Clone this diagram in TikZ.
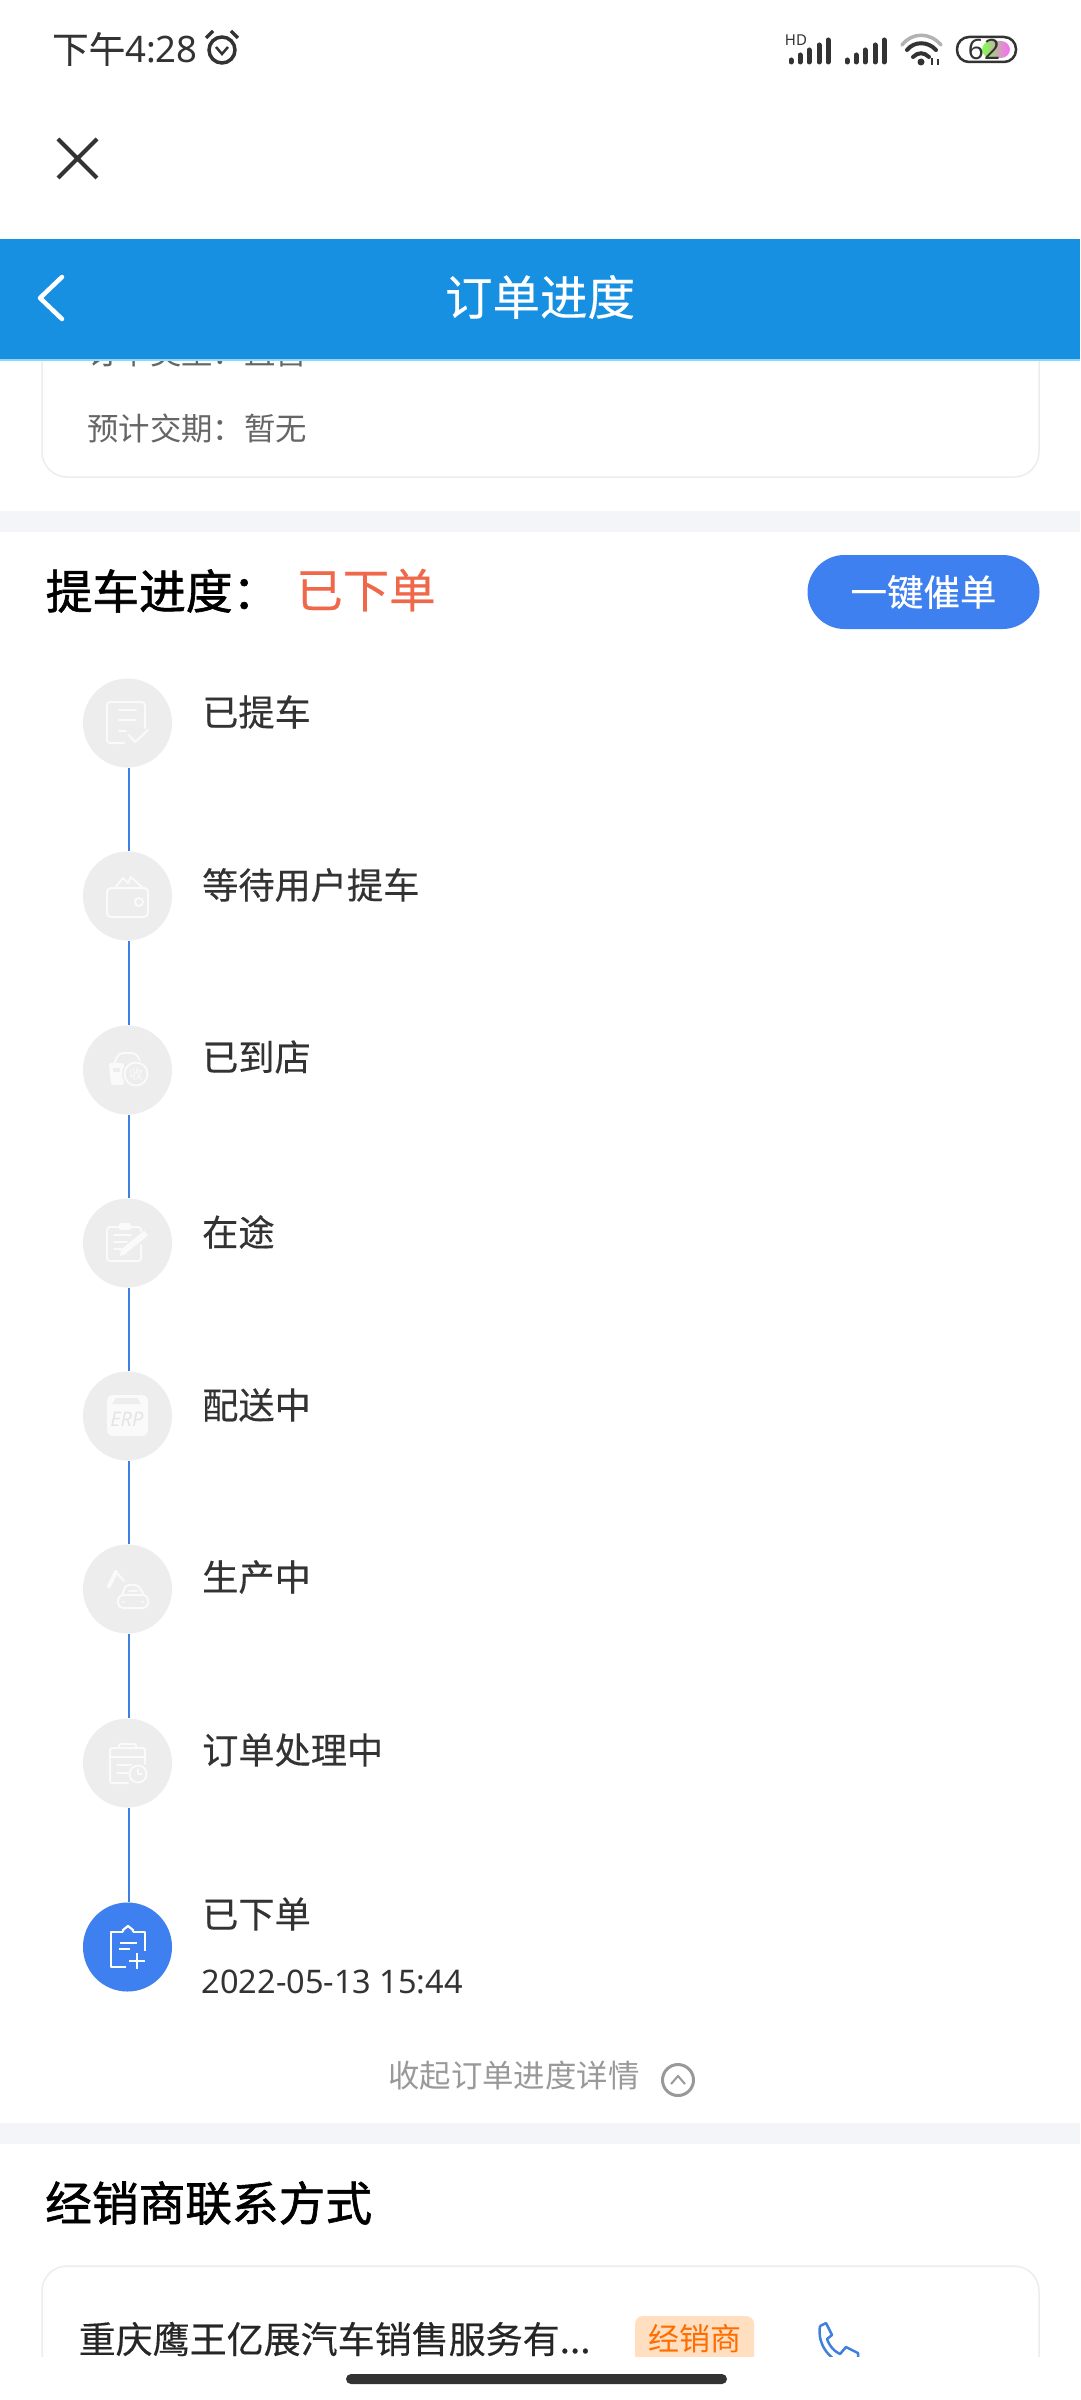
\documentclass[tikz,border=0pt]{standalone}
\usepackage{fontspec}
\setmainfont{Noto Sans}
\newfontfamily\cjk{Noto Sans CJK SC}
\newfontfamily\cjkmid[FakeBold=0.3]{Noto Sans CJK SC}
\newfontfamily\cjkhead[FakeBold=1.3]{Noto Sans CJK SC}
\definecolor{barblue}{HTML}{1890E2}
\definecolor{btnblue}{HTML}{3F80F0}
\definecolor{linkblue}{HTML}{3F7FDF}
\definecolor{bandgray}{HTML}{F4F5F9}
\definecolor{stepgray}{HTML}{EDEDED}
\definecolor{iconwhite}{HTML}{FAFAFA}
\definecolor{inkdark}{HTML}{333333}
\definecolor{redtext}{HTML}{F0684A}
\tikzset{
  card/.style={draw=black!7,line width=1.5pt,fill=white,rounded corners=25pt},
  band/.style={fill=bandgray,draw=none},
  stepdot/.style={circle,fill=stepgray,minimum size=89pt,inner sep=0pt},
  stepline/.style={draw=linkblue,line width=1.8pt},
  steptext/.style={anchor=west,inner sep=0pt,text=inkdark,font=\cjkmid\fontsize{36.2}{37}\selectfont},
  headtext/.style={anchor=west,inner sep=0pt,text=black,font=\cjkhead\fontsize{46.7}{47}\selectfont},
  infotext/.style={anchor=west,inner sep=0pt,text=black!60,font=\cjk\fontsize{31.4}{32}\selectfont},
  iconline/.style={draw=iconwhite,line width=2pt,line cap=round,line join=round},
  iconfill/.style={fill=iconwhite,draw=none},
  signalbar/.style={draw=inkdark,line width=5pt,line cap=round},
}
\begin{document}
\begin{tikzpicture}[x=1pt,y=-1pt]
\useasboundingbox (0,0) rectangle (1080,2400);
\fill[white] (0,0) rectangle (1080,2400);
% status bar
\node[anchor=west,inner sep=0pt,text=inkdark,font=\fontsize{36.5}{37}\selectfont] (clock) at (52,49) {{\cjkmid 下午}4:28};
\draw[inkdark,line width=3.5pt] (222,50) circle (13);
\draw[inkdark,line width=3.5pt] (206,38) -- (213,31) (238,38) -- (231,31);
\draw[inkdark,line width=2.5pt] (216,47) -- (222,54) -- (228,47);
\node[inner sep=0pt,text=inkdark,font=\bfseries\fontsize{15}{15}\selectfont] (hd) at (796,40) {HD};
\foreach \x/\t in {791/60,800/55,809/50,819/45,828/40,847/60,856/55,865/50,875/45,884/40}
\draw[signalbar] (\x,62) -- (\x,\t);
% wifi
\draw[black!30,line width=3.5pt,line cap=round] (902,45) .. controls (912,32) and (930,32) .. (941,45);
\draw[inkdark,line width=4pt,line cap=round] (907,50) .. controls (914,41) and (928,41) .. (936,50);
\draw[inkdark,line width=4pt,line cap=round] (913,57) .. controls (918,52) and (924,52) .. (929,57);
\fill[inkdark] (921,62) circle (3.5);
\draw[inkdark,line width=2pt] (932,65) -- (932,58) (938,59) -- (938,65);
% battery
\draw[inkdark,line width=2.5pt,rounded corners=12pt,fill=white] (957,37) rectangle (1016,62);
\shade[left color=green!70!yellow!70,right color=magenta!60,rounded corners=9pt] (982,41) rectangle (1010,58);
\node[inner sep=0pt,text=inkdark,font=\fontsize{28}{28}\selectfont] (batt) at (984,50) {62};
% close
\draw[inkdark,line width=4pt] (58,139) -- (97,178) (97,139) -- (58,178);
% order card, runs under the title bar
\draw[card] (42,300) rectangle (1039,477);
\node[infotext] (kind) at (87,353) {订单类型：直营};
\node[infotext] (date) at (87,428) {预计交期：暂无};
% title bar
\fill[barblue] (0,239) rectangle (1080,359);
\fill[cyan!45] (0,359) rectangle (1080,360.5);
\draw[white,line width=4.5pt,line cap=round,line join=round] (62,277) -- (40,298) -- (62,319);
\node[inner sep=0pt,text=white,font=\cjkmid\fontsize{47.5}{48}\selectfont] (title) at (540,297) {订单进度};
\fill[band] (0,511) rectangle (1080,532);
% progress head
\node[headtext] (prog) at (45.5,591) {提车进度：};
\node[headtext,text=redtext,font=\cjkmid\fontsize{46.5}{47}\selectfont] (state) at (296,590) {已下单};
\node[fill=btnblue,rounded corners=37pt,minimum width=232pt,minimum height=74pt,inner sep=0pt,text=white,font=\cjkmid\fontsize{36.5}{37}\selectfont] (urge) at (923.5,592) {一键催单};
% steps
\foreach \y/\ly/\t [count=\i] in {723/712/已提车,896/885/等待用户提车,1070/1057/已到店,1243/1232/在途,1416/1405/配送中,1589/1577/生产中,1763/1750/订单处理中,1947/1914/已下单}
{
\node[stepdot] (s\i) at (127.5,\y) {};
\node[steptext] (t\i) at (202,\ly) {\t};
}
\node[stepdot,fill=btnblue] at (s8) {};
\foreach \a/\b in {1/2,2/3,3/4,4/5,5/6,6/7,7/8}
\draw[stepline] ([xshift=1.5pt]s\a.south) -- ([xshift=1.5pt]s\b.north);
\node[anchor=west,inner sep=0pt,text=inkdark,font=\fontsize{32.5}{33}\selectfont] (when) at (201.5,1982) {2022-05-13 15:44};
% icon 1, sheet and tick
\begin{scope}[shift={(127,723)}]
\draw[iconline,rounded corners=3pt] (-3,20) -- (-20,20) -- (-20,-21) -- (18,-21) -- (18,5);
\draw[iconline] (-8,-13) -- (9,-13) (-8,-3) -- (9,-3) (-8,8) -- (-1,8);
\draw[iconline] (2,12) -- (8,19) -- (21,7);
\end{scope}
% icon 2, wallet
\begin{scope}[shift={(127,896)}]
\draw[iconline,rounded corners=4pt] (-20,-8) rectangle (21,21);
\draw[iconline] (-12,-8) -- (-4,-18) -- (1,-13) -- (4,-19) -- (16,-8);
\draw[iconline] (12,6) circle (4);
\end{scope}
% icon 3, car and seal
\begin{scope}[shift={(127,1070)}]
\draw[iconline,rounded corners=4pt] (-13,-6) -- (-8,-17) -- (9,-17) -- (14,-7);
\fill[iconfill,rounded corners=2pt] (-18,-7) -- (-3,-7) -- (-3,15) -- (-16,15) -- cycle;
\fill[stepgray] (-14,-2) rectangle (-7,2);
\fill[stepgray] (9,4) circle (14);
\draw[iconline] (9,4) circle (11.5);
\node[inner sep=0pt,text=iconwhite,font=\cjk\fontsize{14}{14}\selectfont] (seal) at (9,4) {收};
\end{scope}
% icon 4, clipboard and pencil
\begin{scope}[shift={(127,1243)}]
\draw[iconline,rounded corners=3pt] (14,2) -- (14,18) -- (-20,18) -- (-20,-16) -- (14,-16) -- (14,-12);
\fill[iconfill,rounded corners=2pt] (-8,-20) rectangle (4,-13);
\draw[iconline] (-13,-8) -- (4,-8) (-13,-1) -- (0,-1) (-13,6) -- (-6,6);
\draw[iconwhite,line width=6pt] (-3,8) -- (19,-10);
\fill[iconwhite] (-7,13) -- (-6,5) -- (0,11) -- cycle;
\end{scope}
% icon 5, box
\begin{scope}[shift={(127,1416)}]
\fill[iconfill,rounded corners=6pt] (-20,-21) rectangle (21,20);
\fill[stepgray] (-11,-18) -- (10,-18) -- (14,-12) -- (-15,-12) -- cycle;
\node[inner sep=0pt,text=black!10,font=\itshape\fontsize{20}{20}\selectfont] (erp) at (0,3) {ERP};
\end{scope}
% icon 6, arm over a car
\begin{scope}[shift={(127,1589)}]
\draw[iconwhite,line width=4pt,line cap=round] (-18,-3) -- (-11,-17);
\draw[iconline] (-11,-17) -- (-3,-8);
\draw[iconline,rounded corners=5pt] (-9,6) rectangle (21,19);
\draw[iconline,rounded corners=3pt] (-5,6) -- (-1,-4) -- (11,-4) -- (17,6);
\draw[iconline] (-4,13) -- (-3,13) (15,13) -- (16,13) (2,2) -- (10,2);
\end{scope}
% icon 7, clipboard and clock
\begin{scope}[shift={(127,1763)}]
\draw[iconline,rounded corners=2pt] (1,20) -- (-17,20) -- (-17,-15) -- (18,-15) -- (18,1);
\draw[iconline,rounded corners=2pt] (-8,-15) -- (-8,-19) -- (9,-19) -- (9,-15);
\draw[iconline] (-17,-6) -- (18,-6) (-10,2) -- (4,2) (-10,10) -- (1,10);
\draw[iconline] (11,11) circle (8.5) (11,6) -- (11,11) -- (15,11);
\end{scope}
% icon 8, clipboard and plus
\begin{scope}[shift={(127,1947)}]
\draw[white,line width=2.2pt,line join=round] (-1,20) -- (-16,20) -- (-16,-15) -- (-4,-15) (6,-15) -- (18,-15) -- (18,4);
\draw[white,line width=2.2pt,line join=round] (-4,-15) -- (-4,-17) -- (1,-21) -- (6,-17) -- (6,-15);
\draw[white,line width=2.2pt] (-7,-4) -- (10,-4) (-8,2) -- (3,2);
\draw[white,line width=2.2pt] (2,14) -- (18,14) (10,6) -- (10,22);
\end{scope}
% collapse row
\node[infotext,text=black!40] (fold) at (388,2076) {收起订单进度详情};
\node[circle,draw=black!40,line width=3pt,minimum size=31pt,inner sep=0pt] (foldic) at (678,2080) {};
\draw[black!40,line width=2pt] (671,2084) -- (678,2076) -- (685,2084);
\fill[band] (0,2123) rectangle (1080,2144);
% dealer part
\node[headtext] (deal) at (45,2203) {经销商联系方式};
\draw[card] (42,2266) rectangle (1039,2500);
\node[anchor=west,inner sep=0pt,text=black!85,font=\cjkmid\fontsize{37}{37}\selectfont] (shop) at (78.5,2339) {重庆鹰王亿展汽车销售服务有...};
\node[fill=orange!25,rounded corners=8pt,minimum width=119pt,minimum height=60pt,inner sep=0pt] (tag) at (694.5,2346) {};
\node[inner sep=0pt,text=orange!85!red,font=\cjk\fontsize{31}{31}\selectfont] (tagtext) at (694.5,2339) {经销商};
\draw[linkblue,line width=2.5pt,line join=round] (820,2326) -- (826,2323) -- (832,2335) -- (827,2339) .. controls (830,2347) and (834,2351) .. (840,2354) -- (846,2347) -- (858,2353) -- (858,2368) (820,2326) .. controls (817,2345) and (830,2362) .. (850,2366);
\fill[white] (0,2357) rectangle (1080,2400);
\fill[inkdark,rounded corners=5pt] (346,2374) rectangle (727,2384);
\end{tikzpicture}
\end{document}
